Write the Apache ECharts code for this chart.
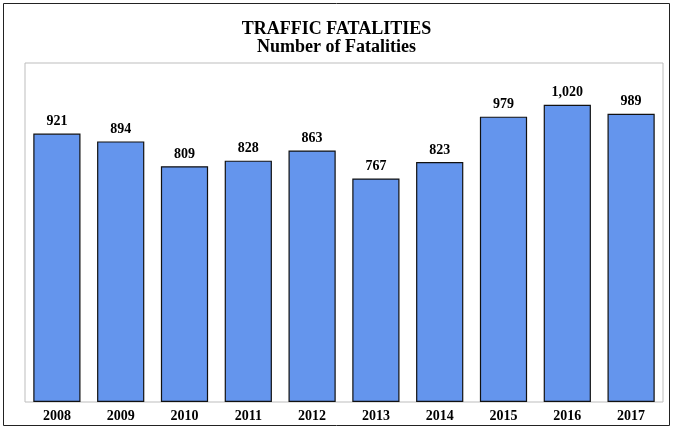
<!DOCTYPE html>
<html>
<head>
<meta charset="utf-8">
<style>
  html, body { margin: 0; padding: 0; background: #fff; }
  #main { width: 673px; height: 430px; }
</style>
<script src="https://cdn.jsdelivr.net/npm/echarts@6/dist/echarts.min.js"></script>
</head>
<body>
<div id="main"></div>
<script>
  // data
  const years = ['2008', '2009', '2010', '2011', '2012', '2013', '2014', '2015', '2016', '2017'];
  const fatalities = [921, 894, 809, 828, 863, 767, 823, 979, 1020, 989];

  const serif = '"Liberation Serif", "Times New Roman", serif';

  const chart = echarts.init(document.getElementById('main'));
  const option = {
    animation: false,
    title: {
      text: 'TRAFFIC FATALITIES\nNumber of Fatalities',
      left: 'center',
      top: 15,
      textStyle: {
        fontFamily: serif,
        fontWeight: 'bold',
        fontSize: 18,
        lineHeight: 18,
        color: '#000'
      }
    },
    grid: {
      left: 25,
      right: 10,
      top: 63,
      bottom: 28,
      show: true,
      borderColor: '#bdbdbd',
      borderWidth: 1
    },
    xAxis: {
      type: 'category',
      data: years,
      axisLine: { show: false },
      axisTick: { show: false },
      axisLabel: {
        margin: 7,
        fontFamily: serif,
        fontWeight: 'bold',
        fontSize: 14,
        color: '#000'
      }
    },
    yAxis: {
      type: 'value',
      min: 0,
      max: 1163,
      show: false,
      splitLine: { show: false }
    },
    series: [{
      type: 'bar',
      data: fatalities,
      barWidth: '74%',
      itemStyle: {
        color: '#6495ed',
        borderColor: '#111',
        borderWidth: 1.2
      },
      label: {
        show: true,
        position: 'top',
        distance: 5,
        fontFamily: serif,
        fontWeight: 'bold',
        fontSize: 14,
        color: '#000',
        formatter: p => p.value.toLocaleString('en-US')
      }
    }],
    graphic: [{
      type: 'rect',
      shape: { x: 3.5, y: 3.5, width: 666, height: 422 },
      style: { fill: 'none', stroke: '#222', lineWidth: 1 },
      silent: true
    }]
  };
  chart.setOption(option);
</script>
</body>
</html>
